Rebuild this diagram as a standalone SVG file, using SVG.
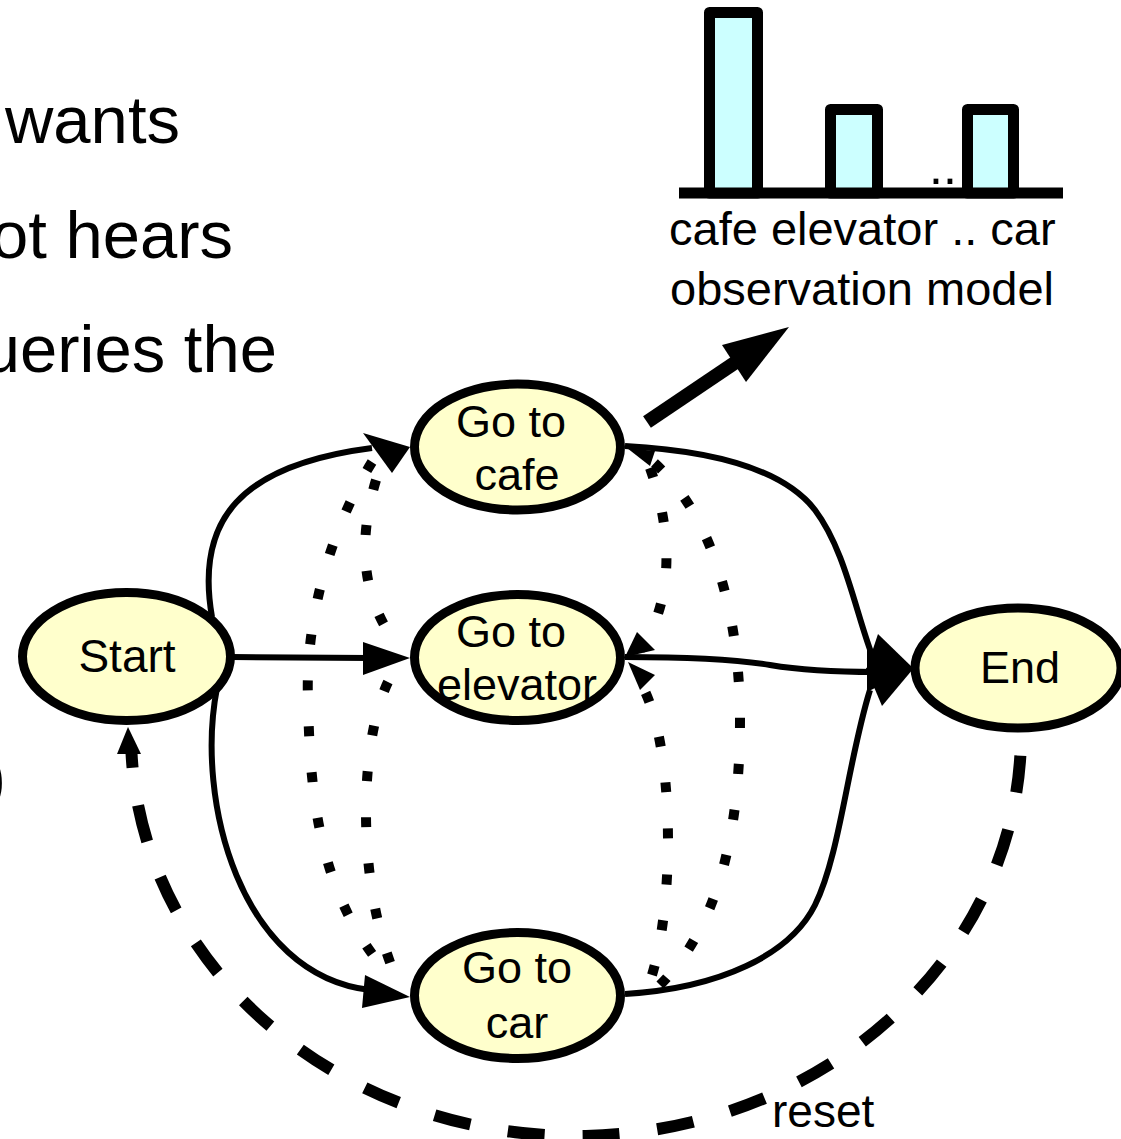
<svg xmlns="http://www.w3.org/2000/svg" width="1121" height="1139" viewBox="0 0 1121 1139">
  <style>
    .txt { font-family: "Liberation Sans", Arial, sans-serif; fill: #000; }
    .node { fill: #FFFFCC; stroke: #000; stroke-width: 9; }
    .edge { fill: none; stroke: #000; stroke-width: 6; }
    .dot { fill: none; stroke: #000; stroke-width: 10; stroke-dasharray: 10 36; }
    .reset { fill: none; stroke: #000; stroke-width: 12; stroke-dasharray: 37 38; }
    .head { fill: #000; stroke: none; }
    .bar { fill: #CCFFFF; stroke: #000; stroke-width: 11; stroke-linejoin: round; }
  </style>

  <rect x="0" y="0" width="1121" height="1139" fill="#fff"/>

  <!-- text of the slide behind the diagram -->
  <g id="slide-text" class="txt" font-size="67" text-anchor="end">
    <text x="180" y="143">wants</text>
    <text x="233" y="258">ot hears</text>
    <text x="277" y="372">ueries the</text>
    <text x="6" y="800">)</text>
  </g>

  <!-- observation model bar chart -->
  <g id="observation-model">
    <line x1="679" y1="193" x2="1063" y2="193" stroke="#000" stroke-width="11"/>
    <rect class="bar" x="709.5" y="12.5" width="48" height="180.5"/>
    <rect class="bar" x="830.5" y="109.5" width="47" height="83.5"/>
    <rect class="bar" x="967.5" y="109.5" width="46" height="83.5"/>
    <text class="txt" x="929" y="184" font-size="50">..</text>
    <text class="txt" x="669" y="245" font-size="47">cafe elevator .. car</text>
    <text class="txt" x="670" y="305" font-size="47">observation model</text>
  </g>

  <g id="connectors">
    <!-- pointer from the cafe state to the observation model -->
    <line x1="647" y1="422" x2="736" y2="362" stroke="#000" stroke-width="14"/>
    <polygon class="head" points="722,345 789,327 746,382"/>

    <!-- solid transitions -->
    <path class="edge" d="M 212,617 C 195,520 240,465 372,448"/>
    <polygon class="head" points="363,433 410,447 392,473"/>
    <path class="edge" d="M 232,657 L 370,658"/>
    <polygon class="head" points="363,642 410,658 363,675"/>
    <path class="edge" d="M 217,688 C 195,800 240,975 370,990"/>
    <polygon class="head" points="365,975 410,997 362,1008"/>

    <path class="edge" d="M 625,446 C 700,450 780,465 815,510 C 845,550 855,610 872,655"/>
    <path class="edge" d="M 625,657 C 700,657 740,660 770,665 C 800,670 840,672 875,672"/>
    <path class="edge" d="M 625,994 C 720,988 790,955 815,905 C 840,855 848,760 870,690"/>
    <polygon class="head" points="878,634 913,668 866,670"/>
    <polygon class="head" points="867,648 913,669 867,692"/>
    <polygon class="head" points="866,668 913,669 882,706"/>

    <!-- dotted transitions between the goal states -->
    <path class="dot" d="M 372,462 C 330,530 305,620 308,700 C 310,800 320,900 392,978"/>
    <path class="dot" d="M 376,480 C 358,540 360,600 400,648"/>
    <path class="dot" d="M 388,682 C 360,740 355,880 395,975"/>
    <path class="dot" d="M 650,468 C 672,530 675,600 640,650"/>
    <path class="dot" d="M 652,975 C 675,900 675,740 640,682"/>
    <path class="dot" d="M 660,985 C 715,930 740,840 740,720 C 740,620 715,510 645,455"/>
    <polygon class="head" points="627,448 655,451 650,466"/>
    <polygon class="head" points="625,657 637,632 655,650"/>
    <polygon class="head" points="628,662 655,675 640,690"/>

    <!-- dashed reset loop from End back to Start -->
    <path class="reset" d="M 131.5,753 A 445 402 0 0 0 1021,735" stroke-dashoffset="22"/>
    <polygon class="head" points="128,727 141,754 117,754"/>
    <text class="txt" x="772" y="1127" font-size="46">reset</text>
  </g>

  <g id="node-start">
    <ellipse class="node" cx="126.5" cy="656.5" rx="104" ry="64"/>
    <text class="txt" x="127" y="672" font-size="46" text-anchor="middle">Start</text>
  </g>

  <g id="node-cafe">
    <ellipse class="node" cx="517.5" cy="447" rx="103" ry="63"/>
    <text class="txt" x="511" y="437" font-size="45" text-anchor="middle">Go to</text>
    <text class="txt" x="517" y="490" font-size="45" text-anchor="middle">cafe</text>
  </g>

  <g id="node-elevator">
    <ellipse class="node" cx="517.5" cy="657.5" rx="103" ry="63"/>
    <text class="txt" x="511" y="647" font-size="45" text-anchor="middle">Go to</text>
    <text class="txt" x="517" y="700" font-size="45" text-anchor="middle">elevator</text>
  </g>

  <g id="node-car">
    <ellipse class="node" cx="517.5" cy="995.5" rx="103" ry="63"/>
    <text class="txt" x="517" y="983" font-size="45" text-anchor="middle">Go to</text>
    <text class="txt" x="517" y="1038" font-size="45" text-anchor="middle">car</text>
  </g>

  <g id="node-end">
    <ellipse class="node" cx="1018" cy="668" rx="103" ry="60"/>
    <text class="txt" x="1020" y="683" font-size="45" text-anchor="middle">End</text>
  </g>
</svg>
